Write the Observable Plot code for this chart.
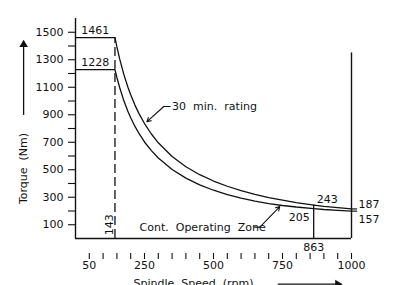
<!DOCTYPE html>
<html>
<head>
<meta charset="utf-8">
<script src="https://cdn.jsdelivr.net/npm/d3@7"></script>
<script src="https://cdn.jsdelivr.net/npm/@observablehq/plot@0.6"></script>
<style>
  html, body { margin: 0; padding: 0; background: #fff; }
  svg { display: block; }
</style>
</head>
<body>
<div id="chart"></div>
<script>
// Spindle speed (rpm) sample points
const rpm       = [0, 143, 150, 160, 175, 190, 200, 215, 230, 250, 275, 300, 350, 400, 450, 500, 550, 600, 650, 700, 750, 800, 863, 900, 950, 1000];
// 30 min. rating torque (Nm)
const rating30  = [1461, 1461, 1393, 1306, 1194, 1100, 1045, 972, 908, 836, 760, 696, 597, 522, 464, 418, 380, 348, 321, 298, 279, 261, 243, 234, 225, 215];
// Continuous operating zone torque (Nm)
const contZone  = [1228, 1228, 1171, 1098, 1003, 924, 878, 817, 764, 702, 639, 585, 502, 439, 390, 351, 319, 293, 272, 254, 240, 229, 218, 211, 205, 199];

// Tick values
const yTicks = [100, 200, 300, 400, 500, 600, 700, 800, 900, 1000, 1100, 1200, 1300, 1400, 1500];
const yLabels = [100, 300, 500, 700, 900, 1100, 1300, 1500];
const xTicks = [50, 100, 150, 200, 250, 300, 350, 400, 450, 500, 550, 600, 650, 700, 750, 800, 850, 900, 950, 1000];
const xLabels = [50, 250, 500, 750, 1000];

// Key values called out on the chart
const baseSpeed = 143;
const cornerSpeed = 863;
const maxSpeed = 1000;
const peak30 = 1461, peakCont = 1228;
const corner30 = 243, cornerCont = 205;
const end30 = 187, endCont = 157;
const rightLineTop = 1350;

const rows30 = rpm.map((r, i) => ({rpm: r, torque: rating30[i]}));
const rowsCont = rpm.map((r, i) => ({rpm: r, torque: contZone[i]}));

const font = "DejaVu Sans, sans-serif";

const plot = Plot.plot({
  width: 393,
  height: 285,
  marginLeft: 75,
  marginRight: 42,
  marginTop: 18,
  marginBottom: 47,
  style: {fontFamily: font, fontSize: "11px", color: "#111", background: "#fff"},
  x: {domain: [0, 1000]},
  y: {domain: [0, 1600]},
  marks: [
    // y axis
    Plot.axisY(yTicks, {tickSize: 7, tickPadding: 5, strokeWidth: 1.1, label: null,
      tickFormat: d => yLabels.includes(d) ? String(d) : "", fontSize: 11}),
    // x axis (detached ticks)
    Plot.axisX(xTicks, {tickSize: 6, tickPadding: 2, dy: 15, strokeWidth: 1.1, label: null,
      tickFormat: d => xLabels.includes(d) ? String(d) : "", fontSize: 11}),
    // frame lines
    Plot.ruleX([0], {stroke: "#111", strokeWidth: 1.4}),
    Plot.ruleY([0], {stroke: "#111", strokeWidth: 1.4}),
    Plot.ruleX([maxSpeed], {y1: 0, y2: rightLineTop, stroke: "#111", strokeWidth: 1.4}),
    // base speed dashed line
    Plot.ruleX([baseSpeed], {y1: 0, y2: peak30, stroke: "#111", strokeWidth: 1.3, strokeDasharray: "9,4"}),
    // corner speed line
    Plot.ruleX([cornerSpeed], {y1: 0, y2: corner30, stroke: "#111", strokeWidth: 1.3}),
    // curves
    Plot.line(rows30, {x: "rpm", y: "torque", stroke: "#111", strokeWidth: 1.3}),
    Plot.line(rowsCont, {x: "rpm", y: "torque", stroke: "#111", strokeWidth: 1.3}),
    // short leaders to end labels
    Plot.ruleY([{y: rating30[rating30.length - 1]}, {y: contZone[contZone.length - 1]}],
      {y: "y", x1: maxSpeed, x2: 1022, stroke: "#111", strokeWidth: 1.2}),
    // value labels
    Plot.text([peak30], {x: baseSpeed / 2, y: d => d, text: d => String(d), dy: -7, fontSize: 11}),
    Plot.text([peakCont], {x: baseSpeed / 2, y: d => d, text: d => String(d), dy: -7, fontSize: 11}),
    Plot.text([corner30], {x: cornerSpeed, y: d => d, text: d => String(d), textAnchor: "start", dx: 3, dy: -6, fontSize: 11}),
    Plot.text([cornerCont], {x: cornerSpeed, y: d => d, text: d => String(d), textAnchor: "end", dx: -4, dy: 7, fontSize: 11}),
    Plot.text([end30], {x: maxSpeed, y: rating30[rating30.length - 1], text: d => String(d), textAnchor: "start", dx: 7, dy: -4, fontSize: 11}),
    Plot.text([endCont], {x: maxSpeed, y: contZone[contZone.length - 1], text: d => String(d), textAnchor: "start", dx: 7, dy: 8, fontSize: 11}),
    Plot.text([cornerSpeed], {x: d => d, y: 0, text: d => String(d), dy: 9, fontSize: 11}),
    Plot.text([baseSpeed], {x: d => d, y: 100, text: d => String(d), rotate: -90, dx: -5, fontSize: 11}),
    // curve annotations
    Plot.text(["30  min.  rating"], {x: 350, y: 960, textAnchor: "start", fontSize: 11}),
    Plot.line([{x: 343, y: 960}, {x: 320, y: 960}], {x: "x", y: "y", stroke: "#111", strokeWidth: 1.1}),
    Plot.arrow([{x1: 320, y1: 960, x2: 259, y2: 850}], {x1: "x1", y1: "y1", x2: "x2", y2: "y2", stroke: "#111", strokeWidth: 1.1, headLength: 6}),
    Plot.text(["Cont.  Operating  Zone"], {x: 232, y: 80, textAnchor: "start", fontSize: 11}),
    Plot.line([{x: 648, y: 83}, {x: 668, y: 83}], {x: "x", y: "y", stroke: "#111", strokeWidth: 1.1}),
    Plot.arrow([{x1: 668, y1: 83, x2: 740, y2: 232}], {x1: "x1", y1: "y1", x2: "x2", y2: "y2", stroke: "#111", strokeWidth: 1.1, headLength: 6}),
    // axis titles
    Plot.text(["Torque  (Nm)"], {x: -188, y: 509, rotate: -90, fontSize: 11}),
    Plot.text(["Spindle  Speed  (rpm)"], {frameAnchor: "bottom", dx: -20, dy: 41, lineAnchor: "top", fontSize: 11}),
    // direction arrows
    Plot.ruleX([-188], {y1: 895, y2: 1400, stroke: "#111", strokeWidth: 1.3}),
    Plot.dot([{x: -188, y: 1410}], {x: "x", y: "y", symbol: "triangle", r: 3.2, fill: "#111", stroke: null}),
    Plot.ruleY([-332], {x1: 735, x2: 945, stroke: "#111", strokeWidth: 1.3}),
    Plot.dot([{x: 950, y: -332}], {x: "x", y: "y", symbol: "triangle", r: 3.2, fill: "#111", stroke: null, rotate: 90})
  ]
});
// keep double-spaced labels with preserved whitespace
d3.select(plot).selectAll("text").style("white-space", "pre");
document.getElementById("chart").appendChild(plot);
</script>
</body>
</html>
